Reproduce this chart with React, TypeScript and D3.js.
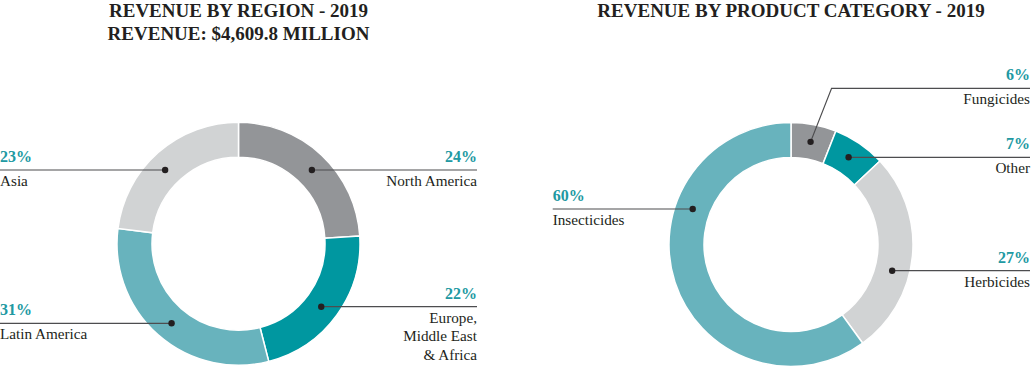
import React from "react";
import * as d3 from "d3";

const regionNames = ["North America", "Europe,\nMiddle East\n& Africa", "Latin America", "Asia"];
const regionShares = [24, 22, 31, 23];
const productNames = ["Fungicides", "Other", "Herbicides", "Insecticides"];
const productShares = [6, 7, 27, 60];
const regionColors = ["#939598", "#0097a0", "#68b3bd", "#d1d3d4"];
const productColors = ["#939598", "#0097a0", "#d1d3d4", "#68b3bd"];

const regionTitle = ["REVENUE BY REGION - 2019", "REVENUE: $4,609.8 MILLION"];
const productTitle = ["REVENUE BY PRODUCT CATEGORY - 2019"];

const W = 1031, H = 367;
const FONT = "'Liberation Serif', 'DejaVu Serif', serif";
const INK = "#231f20";
const PCT = "#2199a2";

// where each callout line sits (layout only)
const regionCallouts = [
  { side: "right", y: 170 },
  { side: "right", y: 306.7 },
  { side: "left", y: 323.3 },
  { side: "left", y: 170 },
];
const productCallouts = [
  { side: "right", y: 88.3, elbow: true },
  { side: "right", y: 157.3 },
  { side: "right", y: 270.7 },
  { side: "left", y: 209 },
];

type Callout = { side: string; y: number; elbow?: boolean };

function Donut(props: {
  cx: number; cy: number; outer: number; inner: number;
  names: string[]; values: number[]; colors: string[];
  callouts: Callout[]; leftX: number; rightX: number;
  title: string[];
}) {
  const { cx, cy, outer, inner, names, values, colors, callouts, leftX, rightX, title } = props;
  const pie = d3.pie<number>().sort(null).value((d) => d);
  const arcs = pie(values);
  const arc = d3.arc<d3.PieArcDatum<number>>().innerRadius(inner).outerRadius(outer);
  const mid = (inner + outer) / 2;
  const labelArc = d3.arc<d3.PieArcDatum<number>>().innerRadius(mid).outerRadius(mid);

  return (
    <g>
      {title.map((t, i) => (
        <text key={i} x={cx} y={16.7 + i * 23.3} textAnchor="middle" fontFamily={FONT}
          fontWeight="bold" fontSize={19} fill={INK}>{t}</text>
      ))}
      <g transform={`translate(${cx},${cy})`}>
        {arcs.map((a, i) => (
          <path key={i} d={arc(a) || ""} fill={colors[i]} stroke="#fff" strokeWidth={1.5} />
        ))}
      </g>
      {arcs.map((a, i) => {
        const c = callouts[i];
        const right = c.side === "right";
        let dx: number, dy: number;
        let path: string;
        if (c.elbow) {
          const [px, py] = labelArc.centroid(a);
          dx = cx + px; dy = cy + py;
          const ex = dx + 21;
          path = `M${dx},${dy}L${ex},${c.y}L${rightX},${c.y}`;
        } else {
          const off = c.y - cy;
          const h = Math.sqrt(Math.max(0, mid * mid - off * off));
          dx = right ? cx + h : cx - h;
          dy = c.y;
          path = right ? `M${dx},${dy}L${rightX},${dy}` : `M${leftX},${dy}L${dx},${dy}`;
        }
        const tx = right ? rightX : leftX;
        const anchor = right ? "end" : "start";
        const lines = names[i].split("\n");
        return (
          <g key={i}>
            <path d={path} fill="none" stroke="#4d4d4f" strokeWidth={1.2} />
            <circle cx={dx} cy={dy} r={3.2} fill={INK} />
            <text x={tx} y={c.y - 8} textAnchor={anchor} fontFamily={FONT} fontWeight="bold"
              fontSize={16} fill={PCT}>{values[i]}%</text>
            {lines.map((l, j) => (
              <text key={j} x={tx} y={c.y + 15.8 + j * 18.5} textAnchor={anchor} fontFamily={FONT}
                fontSize={15.2} fill={INK}>{l}</text>
            ))}
          </g>
        );
      })}
    </g>
  );
}

export default function App() {
  return (
    <svg width={W} height={H} style={{ position: "absolute", left: 0, top: 0, background: "#fff" }}>
      <Donut cx={238.5} cy={243.7} outer={121.5} inner={86.5}
        names={regionNames} values={regionShares} colors={regionColors}
        callouts={regionCallouts} leftX={0} rightX={477} title={regionTitle} />
      <Donut cx={791} cy={244.5} outer={122} inner={87}
        names={productNames} values={productShares} colors={productColors}
        callouts={productCallouts} leftX={552.7} rightX={1030} title={productTitle} />
    </svg>
  );
}
